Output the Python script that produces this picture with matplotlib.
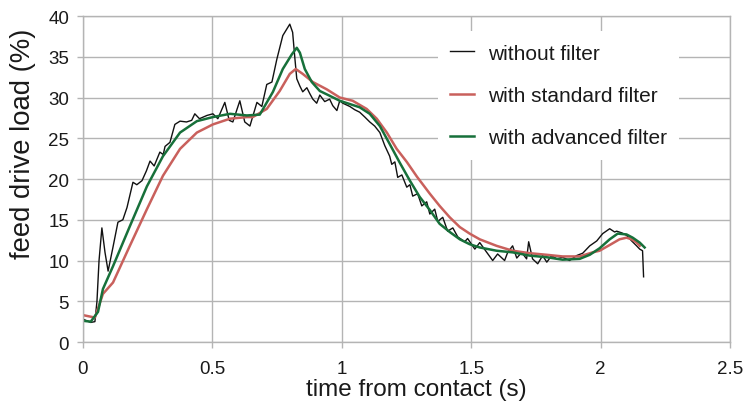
import numpy as np
import matplotlib
matplotlib.use("Agg")
from matplotlib import pyplot as plt

plt.rcParams['font.family'] = ['Liberation Sans', 'DejaVu Sans']

# values
t_raw = [0.00, 0.015, 0.03, 0.046, 0.054, 0.062, 0.073, 0.085, 0.097, 0.115,
         0.135, 0.154, 0.17, 0.193, 0.208, 0.228, 0.245, 0.259, 0.275, 0.297,
         0.31, 0.317, 0.336, 0.355, 0.375, 0.40, 0.42, 0.432, 0.45, 0.479,
         0.502, 0.521, 0.548, 0.565, 0.579, 0.606, 0.625, 0.645, 0.672, 0.691,
         0.71, 0.73, 0.749, 0.772, 0.799, 0.81, 0.819, 0.826, 0.838, 0.849,
         0.865, 0.876, 0.888, 0.903, 0.915, 0.934, 0.953, 0.965, 0.981, 0.992,
         1.004, 1.031, 1.05, 1.069, 1.089, 1.108, 1.127, 1.147, 1.166, 1.185,
         1.193, 1.205, 1.216, 1.232, 1.251, 1.263, 1.274, 1.293, 1.309, 1.328,
         1.34, 1.359, 1.371, 1.39, 1.409, 1.429, 1.448, 1.475, 1.486, 1.514,
         1.533, 1.56, 1.583, 1.602, 1.629, 1.641, 1.66, 1.676, 1.695, 1.714,
         1.722, 1.737, 1.757, 1.776, 1.792, 1.811, 1.83, 1.853, 1.88, 1.907,
         1.931, 1.958, 1.985, 2.008, 2.035, 2.054, 2.062, 2.081, 2.1, 2.12,
         2.139, 2.151, 2.162, 2.166]
y_raw = [2.8, 2.6, 2.4, 2.5, 5.0, 10.0, 14.0, 11.0, 8.7, 11.5,
         14.7, 15.0, 16.5, 19.6, 19.3, 19.8, 21.0, 22.2, 21.6, 23.3,
         23.0, 24.0, 24.5, 26.7, 27.1, 27.0, 27.2, 28.0, 27.4, 27.8,
         28.0, 27.4, 29.4, 27.2, 27.0, 29.6, 27.0, 26.5, 29.4, 28.9,
         31.6, 31.9, 34.7, 37.6, 39.0, 38.0, 34.7, 32.3, 31.4, 30.7,
         31.2, 30.5, 29.8, 29.3, 30.3, 29.5, 29.8, 29.0, 28.4, 29.6,
         29.3, 28.9, 28.5, 28.2, 27.6, 27.0, 26.5, 25.7, 24.1, 22.8,
         21.8, 22.1, 20.2, 20.5, 19.0, 19.3, 17.9, 18.2, 16.7, 17.2,
         15.7, 16.3, 14.8, 15.3, 13.6, 14.0, 12.9, 12.3, 12.7, 11.4,
         12.2, 11.0, 10.0, 10.8, 10.0, 11.0, 11.8, 10.3, 11.0, 10.2,
         12.3, 10.2, 9.6, 10.6, 9.8, 10.6, 10.2, 10.4, 10.0, 10.6,
         10.9, 11.8, 12.4, 13.3, 13.9, 13.5, 13.6, 13.4, 13.1, 12.4,
         11.8, 11.4, 11.2, 8.0]

t_std = [0.00, 0.046, 0.077, 0.116, 0.181, 0.247, 0.309, 0.375, 0.44, 0.502,
         0.568, 0.633, 0.656, 0.71, 0.76, 0.799, 0.822, 0.849, 0.888, 0.942,
         0.992, 1.042, 1.096, 1.135, 1.174, 1.212, 1.251, 1.29, 1.34, 1.378,
         1.417, 1.456, 1.494, 1.533, 1.598, 1.66, 1.726, 1.792, 1.853, 1.919,
         1.969, 1.996, 2.035, 2.073, 2.1, 2.12, 2.139, 2.151]
y_std = [3.3, 3.0, 5.9, 7.3, 11.8, 16.3, 20.4, 23.7, 25.7, 26.7,
         27.4, 27.6, 27.6, 28.6, 30.8, 32.9, 33.5, 32.9, 31.9, 31.0,
         30.0, 29.6, 28.6, 27.4, 25.7, 23.7, 22.1, 20.3, 18.2, 16.7,
         15.3, 14.1, 13.3, 12.6, 11.8, 11.2, 10.9, 10.7, 10.5, 10.5,
         11.0, 11.2, 11.9, 12.6, 12.8, 12.6, 12.2, 11.8]

t_adv = [0.00, 0.03, 0.058, 0.077, 0.116, 0.181, 0.247, 0.309, 0.375, 0.44,
         0.502, 0.568, 0.633, 0.683, 0.734, 0.772, 0.807, 0.826, 0.838, 0.857,
         0.884, 0.915, 0.954, 0.992, 1.031, 1.069, 1.108, 1.147, 1.185, 1.224,
         1.263, 1.301, 1.34, 1.378, 1.417, 1.456, 1.494, 1.533, 1.598, 1.66,
         1.726, 1.792, 1.853, 1.919, 1.958, 1.996, 2.035, 2.066, 2.1, 2.124,
         2.151, 2.17]
y_adv = [2.6, 2.5, 3.7, 6.5, 9.3, 14.2, 19.1, 22.8, 25.7, 27.1,
         27.6, 28.0, 27.8, 27.9, 30.7, 33.5, 35.3, 36.1, 35.5, 33.5,
         31.9, 30.8, 30.2, 29.6, 29.2, 28.8, 28.0, 26.5, 24.3, 22.0,
         19.8, 17.8, 16.2, 14.5, 13.5, 12.6, 12.0, 11.6, 11.2, 11.0,
         10.6, 10.4, 10.1, 10.2, 10.7, 11.5, 12.6, 13.3, 13.2, 12.8,
         12.2, 11.6]

labels = ['without filter', 'with standard filter', 'with advanced filter']

grid_col = '#b4b4b4'

fig = plt.figure(figsize=(7.45, 4.1), dpi=100)
fig.subplots_adjust(left=0.1114, right=0.9799, bottom=0.1634, top=0.9585)
ax = fig.add_subplot(111)

ax.plot(t_raw, y_raw, color='#111111', lw=1.0, label=labels[0],
        solid_joinstyle='round')
ax.plot(t_std, y_std, color='#c9605c', lw=1.8, label=labels[1],
        solid_joinstyle='round')
ax.plot(t_adv, y_adv, color='#17703a', lw=1.8, label=labels[2],
        solid_joinstyle='round')

ax.set_xlim(0, 2.5)
ax.set_ylim(0, 40)
ax.set_xticks(np.arange(0, 2.51, 0.5))
ax.set_xticklabels(['0', '0.5', '1', '1.5', '2', '2.5'])
ax.set_yticks(np.arange(0, 41, 5))
ax.grid(True, color=grid_col, lw=1.0)
ax.set_axisbelow(True)
for s in ax.spines.values():
    s.set_color(grid_col)
    s.set_linewidth(1.0)
ax.tick_params(axis='both', colors=grid_col, labelcolor='#1a1a1a',
               labelsize=13.5, length=4, width=1.0)
ax.tick_params(axis='y', pad=6)
ax.tick_params(axis='x', pad=9)

ax.set_xlabel('time from contact (s)', fontsize=17.5, color='#1a1a1a')
ax.set_ylabel('feed drive load (%)', fontsize=19.8, color='#1a1a1a')
ax.xaxis.set_label_coords(0.515, -0.11)
ax.yaxis.set_label_coords(-0.0726, 0.61)

leg = ax.legend(loc='upper left', bbox_to_anchor=(0.548, 0.954), fontsize=15,
                frameon=True, facecolor='white', edgecolor='none', framealpha=1,
                fancybox=False, borderpad=0.6, handlelength=1.15,
                handletextpad=0.65, labelspacing=1.12, borderaxespad=0)
for txt in leg.get_texts():
    txt.set_color('#1a1a1a')

fig.savefig('out.png', dpi=100)
